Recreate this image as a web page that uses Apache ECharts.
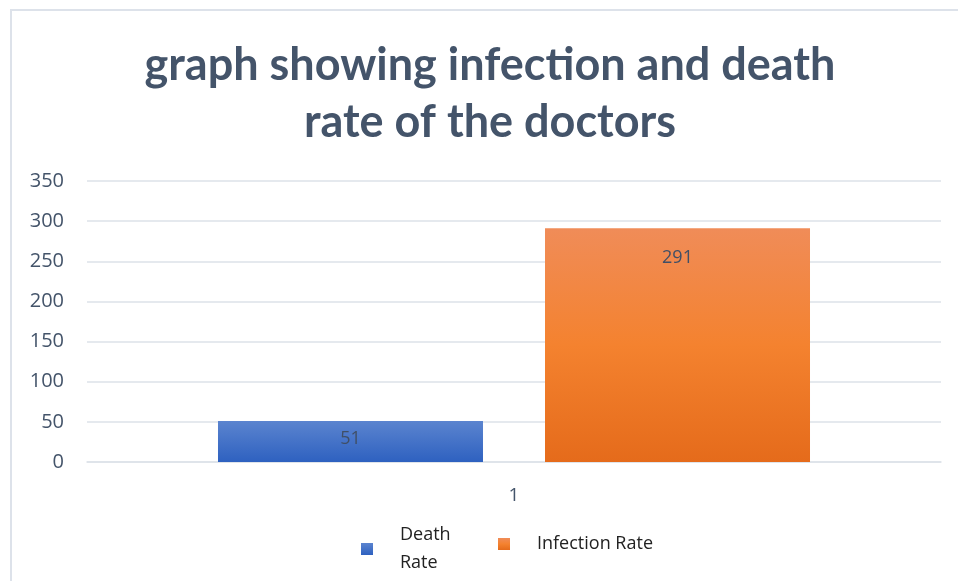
<!DOCTYPE html>
<html>
<head>
<meta charset="utf-8">
<script src="https://cdn.jsdelivr.net/npm/echarts@6/dist/echarts.min.js"></script>
<style>
  html, body { margin: 0; padding: 0; background: #fff; }
  #chart { width: 958px; height: 581px; }
</style>
</head>
<body>
<div id="chart"></div>
<script>
  // data
  var categories = ['1'];
  var seriesNames = ['Death Rate', 'Infection Rate'];
  var deathRate = [51];
  var infectionRate = [291];
  var titleText = 'graph showing infection and death\nrate of the doctors';

  var textColor = '#44546a';
  var gridColor = '#dde2e9';

  var blueFill = new echarts.graphic.LinearGradient(0, 0, 0, 1, [
    { offset: 0, color: '#5b84cf' },
    { offset: 1, color: '#2e61c0' }
  ]);
  var orangeFill = new echarts.graphic.LinearGradient(0, 0, 0, 1, [
    { offset: 0, color: '#f08c58' },
    { offset: 0.5, color: '#f4822f' },
    { offset: 1, color: '#e56b1b' }
  ]);

  var legendText = {
    fontFamily: 'Open Sans',
    fontSize: 18,
    lineHeight: 28,
    color: '#222',
    padding: [0, 0, 0, 22]
  };

  var chart = echarts.init(document.getElementById('chart'));
  var option = {
    animation: false,
    backgroundColor: '#fff',
    graphic: [{
      type: 'rect',
      shape: { x: 11, y: 10, width: 980, height: 620 },
      style: { fill: 'none', stroke: '#dde2ea', lineWidth: 2 },
      silent: true
    }],
    title: {
      text: titleText,
      left: 485,
      textAlign: 'center',
      top: 32,
      textStyle: {
        fontFamily: 'Lato',
        fontWeight: 'bold',
        fontSize: 45,
        lineHeight: 57,
        color: textColor
      }
    },
    // one legend per series so each item can sit where Excel put it
    legend: [{
      left: 356,
      top: 516,
      itemWidth: 12,
      itemHeight: 12,
      icon: 'rect',
      formatter: function () { return 'Death\nRate'; },
      textStyle: legendText,
      data: [seriesNames[0]]
    }, {
      left: 493,
      top: 520,
      itemWidth: 12,
      itemHeight: 12,
      icon: 'rect',
      textStyle: Object.assign({}, legendText, { padding: [0, 0, 10, 22] }),
      data: [seriesNames[1]]
    }],
    grid: {
      left: 87,
      right: 17,
      top: 181,
      bottom: 119,
      containLabel: false
    },
    xAxis: {
      type: 'category',
      data: categories,
      axisLine: { lineStyle: { color: gridColor, width: 1.5 } },
      axisTick: { show: false },
      axisLabel: {
        margin: 24,
        fontFamily: 'Open Sans',
        fontSize: 19,
        color: textColor
      }
    },
    yAxis: {
      type: 'value',
      min: 0,
      max: 350,
      interval: 50,
      axisLine: { show: false },
      axisTick: { show: false },
      splitLine: { lineStyle: { color: gridColor, width: 1.5 } },
      axisLabel: {
        margin: 23,
        fontFamily: 'Open Sans',
        fontSize: 20,
        color: textColor
      }
    },
    series: [{
      name: seriesNames[0],
      type: 'bar',
      data: deathRate,
      barWidth: 265,
      barGap: '23.4%',
      itemStyle: { color: blueFill },
      label: {
        show: true,
        position: 'insideTop',
        distance: 9,
        fontFamily: 'Open Sans',
        fontSize: 18,
        color: '#404f66'
      }
    }, {
      name: seriesNames[1],
      type: 'bar',
      data: infectionRate,
      barWidth: 265,
      barGap: '23.4%',
      itemStyle: { color: orangeFill },
      label: {
        show: true,
        position: 'insideTop',
        distance: 21,
        fontFamily: 'Open Sans',
        fontSize: 18,
        color: '#404f66'
      }
    }]
  };
  chart.setOption(option);
</script>
</body>
</html>
